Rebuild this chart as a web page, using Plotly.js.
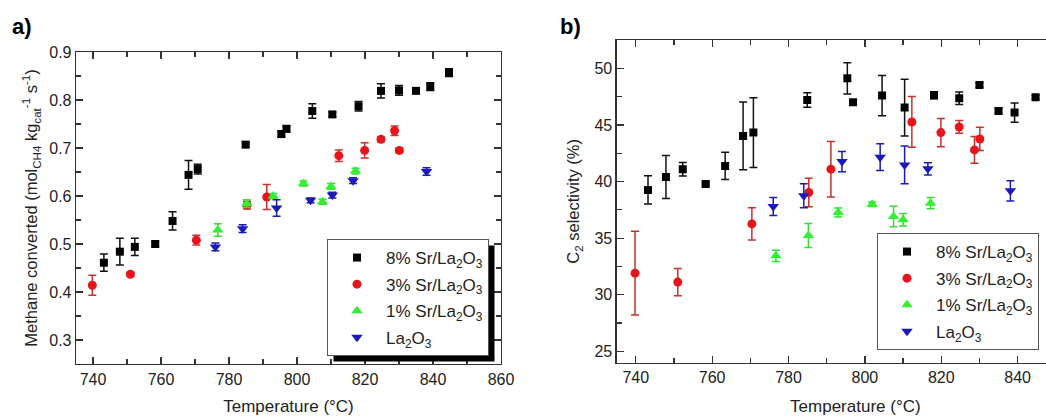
<!DOCTYPE html>
<html>
<head>
<meta charset="utf-8">
<script src="https://cdn.plot.ly/plotly-3.0.1.min.js"></script>
<style>
html,body{margin:0;padding:0;background:#fff;overflow:hidden;width:1046px;height:416px;}
#chart{width:1100px;height:416px;}
</style>
</head>
<body>
<div id="chart"></div>
<script>
// ---- data ----
const seriesNames = ["8% Sr/La<sub>2</sub>O<sub>3</sub>", "3% Sr/La<sub>2</sub>O<sub>3</sub>", "1% Sr/La<sub>2</sub>O<sub>3</sub>", "La<sub>2</sub>O<sub>3</sub>"];

const temp8 = [743.2, 747.9, 752.3, 758.3, 763.4, 768.1, 770.8, 784.9, 795.4, 796.9, 804.5, 810.4, 818.1, 824.7, 830.0, 835.0, 839.2, 844.7];
const conv8 = [0.461, 0.484, 0.494, 0.500, 0.548, 0.644, 0.656, 0.707, 0.729, 0.740, 0.777, 0.770, 0.787, 0.819, 0.820, 0.819, 0.828, 0.857];
const convErr8 = [0.018, 0.028, 0.018, 0.005, 0.019, 0.030, 0.010, 0.005, 0.006, 0.006, 0.015, 0.005, 0.010, 0.015, 0.010, 0.004, 0.008, 0.008];
const sel8 = [39.26, 40.41, 41.09, 39.79, 41.38, 44.03, 44.32, 47.2, 49.12, 47.0, 47.59, 46.53, 47.62, 47.35, 48.53, 46.24, 46.09, 47.44];
const selErr8 = [1.25, 1.9, 0.6, 0.15, 1.2, 3.0, 3.07, 0.65, 1.38, 0.2, 1.78, 2.5, 0.3, 0.55, 0.2, 0.2, 0.85, 0.15];

const temp3 = [739.8, 751.0, 770.4, 785.3, 791.1, 812.3, 819.9, 824.7, 828.7, 830.1];
const conv3 = [0.414, 0.437, 0.508, 0.581, 0.598, 0.684, 0.695, 0.718, 0.736, 0.695];
const convErr3 = [0.021, 0.004, 0.010, 0.008, 0.026, 0.012, 0.016, 0.005, 0.010, 0.005];
const sel3 = [31.91, 31.12, 36.26, 39.03, 41.09, 45.26, 44.32, 44.82, 42.79, 43.76];
const selErr3 = [3.7, 1.2, 1.43, 1.25, 2.45, 2.24, 1.24, 0.56, 1.18, 1.03];

const temp1 = [776.7, 785.2, 793.0, 801.9, 807.5, 810.0, 817.2];
const conv1 = [0.529, 0.584, 0.600, 0.626, 0.588, 0.620, 0.652];
const convErr1 = [0.013, 0.008, 0.005, 0.005, 0.005, 0.006, 0.006];
const sel1 = [33.44, 35.24, 37.26, 38.0, 36.91, 36.62, 38.09];
const selErr1 = [0.5, 1.06, 0.4, 0.2, 0.9, 0.55, 0.5];

const temp0 = [776.0, 784.0, 794.0, 804.0, 810.4, 816.5, 838.1];
const conv0 = [0.494, 0.532, 0.575, 0.591, 0.602, 0.632, 0.651];
const convErr0 = [0.008, 0.008, 0.017, 0.005, 0.006, 0.006, 0.008];
const sel0 = [37.79, 38.74, 41.76, 42.15, 41.47, 41.12, 39.18];
const selErr0 = [0.8, 1.06, 0.9, 1.18, 1.66, 0.55, 0.9];

// ---- styling ----
const W = 1100, H = 416;
const FONT = "Liberation Sans, Arial, sans-serif";
const styles = [
  {symbol: "square", color: "#000000", err: "#111111", size: 8},
  {symbol: "circle", color: "#e8141c", err: "#c8302c", size: 9},
  {symbol: "triangle-up", color: "#33ee33", err: "#33dd33", size: 10},
  {symbol: "triangle-down", color: "#1a1ab8", err: "#1a1ab8", size: 10}
];

const tempsList = [temp8, temp3, temp1, temp0];
const convList = [conv8, conv3, conv1, conv0];
const convErrList = [convErr8, convErr3, convErr1, convErr0];
const selList = [sel8, sel3, sel1, sel0];
const selErrList = [selErr8, selErr3, selErr1, selErr0];

const traces = [];
for (let i = 0; i < 4; i++) {
  const s = styles[i];
  traces.push({
    type: "scatter", mode: "markers", name: seriesNames[i],
    x: tempsList[i], y: convList[i],
    xaxis: "x", yaxis: "y", legend: "legend", legendgroup: "a" + i,
    marker: {symbol: s.symbol, color: s.color, size: s.size},
    error_y: {type: "data", array: convErrList[i], visible: true, color: s.err, thickness: 1.5, width: 4}
  });
}
for (let i = 0; i < 4; i++) {
  const s = styles[i];
  traces.push({
    type: "scatter", mode: "markers", name: seriesNames[i],
    x: tempsList[i], y: selList[i],
    xaxis: "x2", yaxis: "y2", legend: "legend2", legendgroup: "b" + i,
    marker: {symbol: s.symbol, color: s.color, size: s.size},
    error_y: {type: "data", array: selErrList[i], visible: true, color: s.err, thickness: 1.5, width: 4}
  });
}

function axisBase(extra) {
  return Object.assign({
    showline: true, linecolor: "#333", linewidth: 1.3, mirror: "ticks",
    ticks: "inside", ticklen: 7, tickwidth: 1.2, tickcolor: "#333",
    showgrid: false, zeroline: false, automargin: false,
    tickfont: {family: FONT, size: 16, color: "#222"}
  }, extra);
}

const legendBase = {
  xanchor: "left", yanchor: "top", bgcolor: "#ffffff",
  bordercolor: "#555", borderwidth: 1,
  font: {family: FONT, size: 17, color: "#222"},
  itemwidth: 48, tracegroupgap: 1.5
};

const layout = {
  width: W, height: H,
  margin: {l: 0, r: 0, t: 0, b: 0},
  paper_bgcolor: "#fff", plot_bgcolor: "#fff",
  font: {family: FONT, color: "#222"},
  showlegend: true,
  xaxis: axisBase({
    domain: [76 / W, 501 / W], range: [735, 860], dtick: 20, tick0: 740,
    minor: {dtick: 10, ticks: "inside", ticklen: 5, tickcolor: "#333"},
    anchor: "y",
    title: {text: "Temperature (°C)", font: {family: FONT, size: 17, color: "#222"}, standoff: 14}
  }),
  yaxis: axisBase({
    domain: [(H - 364) / H, (H - 52) / H], range: [0.25, 0.9], dtick: 0.1, tick0: 0.3,
    tickformat: ".1f",
    minor: {dtick: 0.05, ticks: "inside", ticklen: 5, tickcolor: "#333"},
    anchor: "x",
    title: {text: "Methane converted (mol<sub>CH4</sub> kg<sub>cat</sub><sup>-1</sup> s<sup>-1</sup>)", font: {family: FONT, size: 16.5, color: "#222"}, standoff: 7}
  }),
  xaxis2: axisBase({
    domain: [616.7 / W, 1094 / W], range: [735, 860], dtick: 20, tick0: 740,
    minor: {dtick: 10, ticks: "inside", ticklen: 5, tickcolor: "#333"},
    anchor: "y2",
    title: {text: "Temperature (°C)", font: {family: FONT, size: 17, color: "#222"}, standoff: 16}
  }),
  yaxis2: axisBase({
    domain: [(H - 362.7) / H, (H - 40) / H], range: [24, 52.5], dtick: 5, tick0: 25,
    minor: {dtick: 2.5, ticks: "inside", ticklen: 5, tickcolor: "#333"},
    anchor: "x2",
    title: {text: "C<sub>2</sub> selectivity (%)", font: {family: FONT, size: 16.5, color: "#222"}, standoff: 10}
  }),
  legend: Object.assign({}, legendBase, {x: 327 / W, y: (H - 239) / H}),
  legend2: Object.assign({}, legendBase, {x: 877 / W, y: (H - 233) / H}),
  annotations: [
    {text: "<b>a)</b>", xref: "paper", yref: "paper", x: 10 / W, y: (H - 12) / H, xanchor: "left", yanchor: "top", showarrow: false, font: {family: FONT, size: 22, color: "#000"}},
    {text: "<b>b)</b>", xref: "paper", yref: "paper", x: 558 / W, y: (H - 12) / H, xanchor: "left", yanchor: "top", showarrow: false, font: {family: FONT, size: 22, color: "#000"}}
  ]
};

const gd = document.getElementById("chart");
Plotly.newPlot(gd, traces, layout, {displayModeBar: false, staticPlot: true}).then(function () {
  const root = gd.getBoundingClientRect();
  const shapes = [];
  gd.querySelectorAll(".infolayer .legend rect.bg").forEach(function (bg) {
    const r = bg.getBoundingClientRect();
    const off = 6;
    shapes.push({
      type: "rect", xref: "paper", yref: "paper", layer: "above",
      x0: (r.left - root.left + off) / W, x1: (r.right - root.left + off) / W,
      y0: 1 - (r.bottom - root.top + off) / H, y1: 1 - (r.top - root.top + off) / H,
      fillcolor: "#000", line: {width: 0}
    });
  });
  return Plotly.relayout(gd, {shapes: shapes});
});
</script>
</body>
</html>
